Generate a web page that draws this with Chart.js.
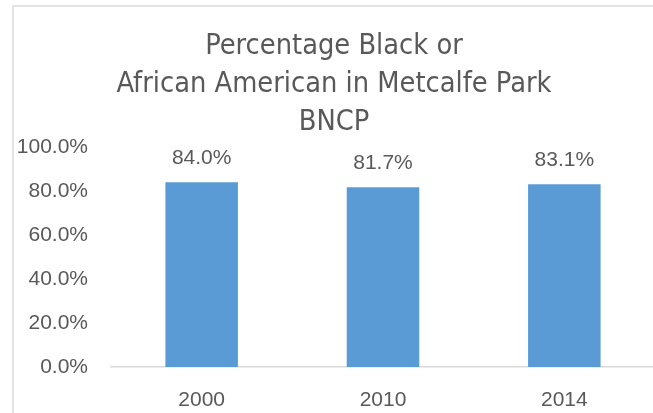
<!DOCTYPE html>
<html>
<head>
<meta charset="utf-8">
<script src="https://cdn.jsdelivr.net/npm/chart.js@4"></script>
<style>
  html, body { margin: 0; padding: 0; background: #fff; overflow: hidden; }
  .wrap { position: relative; width: 653px; height: 413px; overflow: hidden; }
  .frame { position: absolute; left: 12px; top: 5px; width: 700px; height: 500px; border: 2px solid #e3e3e3; box-sizing: border-box; }
  canvas { position: absolute; left: 0; top: 0; }
</style>
</head>
<body>
<div class="wrap">
  <div class="frame"></div>
  <canvas id="chart" width="655" height="413"></canvas>
</div>
<script>
const years = ['2000', '2010', '2014'];
const pctBlack = [84.0, 81.7, 83.1];
const titleLines = ['Percentage Black or', 'African American in Metcalfe Park', 'BNCP'];

const textColor = '#595959';

// value labels above each bar
const barLabels = {
  id: 'barLabels',
  afterDatasetsDraw(chart) {
    const ctx = chart.ctx;
    const meta = chart.getDatasetMeta(0);
    ctx.save();
    ctx.font = '21px "Liberation Sans", Arial, sans-serif';
    ctx.fillStyle = textColor;
    ctx.textAlign = 'center';
    ctx.textBaseline = 'alphabetic';
    meta.data.forEach((bar, i) => {
      ctx.fillText(pctBlack[i].toFixed(1) + '%', bar.x, bar.y - 18);
    });
    ctx.restore();
  }
};

const ctx = document.getElementById('chart').getContext('2d');
new Chart(ctx, {
  type: 'bar',
  data: {
    labels: years,
    datasets: [{
      data: pctBlack,
      backgroundColor: '#5b9bd5',
      barPercentage: 0.4,
      categoryPercentage: 1.0
    }]
  },
  options: {
    responsive: false,
    animation: false,
    layout: { padding: { left: 13, right: 0, top: 0, bottom: 0 } },
    plugins: {
      legend: { display: false },
      tooltip: { enabled: false },
      title: {
        display: true,
        text: titleLines,
        color: textColor,
        font: { family: '"Liberation Sans Narrow", "DejaVu Sans Condensed", sans-serif', size: 28.7, weight: 'normal', lineHeight: 38 / 28.7 },
        padding: { top: 28, bottom: 5 }
      }
    },
    scales: {
      x: {
        grid: { display: false, drawTicks: false },
        border: { display: true, color: '#d9d9d9', width: 1.5 },
        ticks: {
          color: textColor,
          font: { family: '"Liberation Sans", Arial, sans-serif', size: 21 },
          padding: 21
        },
        afterFit(scale) { scale.height = 46; }
      },
      y: {
        min: 0,
        max: 100,
        grid: { display: false, drawTicks: false },
        border: { display: false },
        ticks: {
          stepSize: 20,
          color: textColor,
          font: { family: '"Liberation Sans", Arial, sans-serif', size: 21 },
          padding: 23,
          callback: v => v.toFixed(1) + '%'
        },
        afterFit(scale) { scale.width = 98; }
      }
    }
  },
  plugins: [barLabels]
});
</script>
</body>
</html>
